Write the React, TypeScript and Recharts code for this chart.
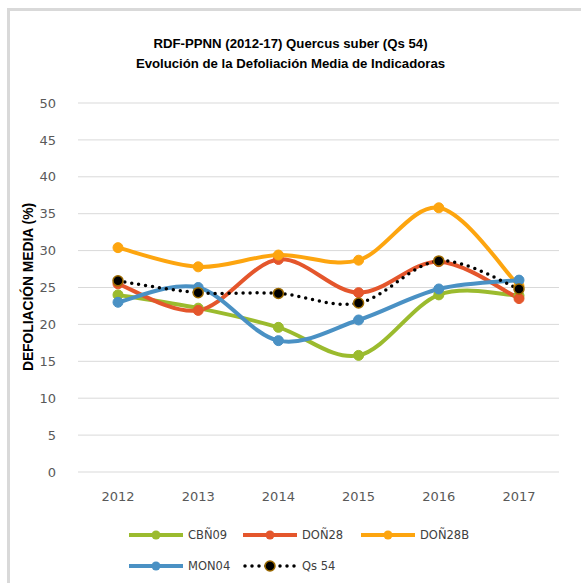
import React from "react";
import { LineChart, Line, XAxis, YAxis, CartesianGrid } from "recharts";

const years = ["2012", "2013", "2014", "2015", "2016", "2017"];
const cbn09 = [24.0, 22.2, 19.6, 15.8, 24.0, 23.9];
const don28 = [25.5, 21.9, 28.8, 24.3, 28.5, 23.5];
const don28b = [30.4, 27.8, 29.4, 28.7, 35.8, 25.2];
const mon04 = [23.0, 25.0, 17.8, 20.6, 24.8, 26.0];
const qs54 = [25.9, 24.3, 24.2, 22.9, 28.6, 24.8];
const yTicks = [0, 5, 10, 15, 20, 25, 30, 35, 40, 45, 50];

const SERIES = [
  { key: "cbn09", name: "CBÑ09", color: "#9bbb2e" },
  { key: "don28", name: "DOÑ28", color: "#e4562c" },
  { key: "don28b", name: "DOÑ28B", color: "#fda50f" },
  { key: "mon04", name: "MON04", color: "#4a91c4" },
];

const data = years.map((year, i) => ({
  year,
  cbn09: cbn09[i],
  don28: don28[i],
  don28b: don28b[i],
  mon04: mon04[i],
  qs54: qs54[i],
}));

const tickStyle = { fill: "#595959", fontSize: 13, fontFamily: "DejaVu Sans" };

// excel-style smoothed line (catmull-rom bezier)
function smoothCurve(context: any) {
  let pts: number[][] = [];
  return {
    areaStart() {},
    areaEnd() {},
    lineStart() {
      pts = [];
    },
    lineEnd() {
      if (!pts.length) return;
      context.moveTo(pts[0][0], pts[0][1]);
      for (let i = 0; i < pts.length - 1; i++) {
        const p0 = pts[i - 1] || pts[i];
        const p1 = pts[i];
        const p2 = pts[i + 1];
        const p3 = pts[i + 2] || p2;
        context.bezierCurveTo(
          p1[0] + (p2[0] - p0[0]) / 6,
          p1[1] + (p2[1] - p0[1]) / 6,
          p2[0] - (p3[0] - p1[0]) / 6,
          p2[1] - (p3[1] - p1[1]) / 6,
          p2[0],
          p2[1]
        );
      }
    },
    point(x: number, y: number) {
      pts.push([+x, +y]);
    },
  };
}

function LegendItem({ name, color, dotted, x, y }: { name: string; color: string; dotted?: boolean; x: number; y: number }) {
  return (
    <div style={{ position: "absolute", left: x, top: y - 10, height: 20, display: "flex", alignItems: "center" }}>
      <svg width={54} height={20} style={{ display: "block" }}>
        {dotted ? (
          <>
            <line x1={2} y1={10} x2={52} y2={10} stroke="#000" strokeWidth={3.5} strokeDasharray="0 7" strokeLinecap="round" />
            <circle cx={27} cy={10} r={5} fill="#000" stroke="#9c6a00" strokeWidth={1.5} />
          </>
        ) : (
          <>
            <line x1={0} y1={10} x2={54} y2={10} stroke={color} strokeWidth={4} strokeLinecap="round" />
            <circle cx={27} cy={10} r={4.5} fill={color} />
          </>
        )}
      </svg>
      <span style={{ marginLeft: 5, fontSize: 11.5, fontFamily: "DejaVu Sans", color: "#404040" }}>{name}</span>
    </div>
  );
}

export default function App() {
  return (
    <div style={{ position: "absolute", left: 0, top: 0, width: 581, height: 583, background: "#fff", overflow: "hidden" }}>
      <div
        style={{
          position: "absolute",
          left: 7,
          top: 8,
          width: 600,
          height: 600,
          borderTop: "3px solid #d9d9d9",
          borderLeft: "3px solid #d9d9d9",
        }}
      />
      <div
        style={{
          position: "absolute",
          left: 0,
          top: 34,
          width: 581,
          textAlign: "center",
          fontFamily: "Liberation Sans",
          fontWeight: "bold",
          fontSize: 13.2,
          lineHeight: "20px",
          color: "#000",
        }}
      >
        <div>RDF-PPNN (2012-17) Quercus suber (Qs 54)</div>
        <div>Evolución de la Defoliación Media de Indicadoras</div>
      </div>
      <div
        style={{
          position: "absolute",
          left: 28,
          top: 287,
          transform: "translate(-50%, -50%) rotate(-90deg)",
          whiteSpace: "nowrap",
          fontFamily: "Liberation Sans",
          fontWeight: "bold",
          fontSize: 13.8,
          color: "#000",
        }}
      >
        DEFOLIACIÓN MEDIA (%)
      </div>
      <LineChart
        width={581}
        height={583}
        data={data}
        margin={{ top: 103, right: 22, bottom: 81, left: 38 }}
        style={{ position: "absolute", left: 0, top: 0 }}
      >
        <CartesianGrid vertical={false} stroke="#d9d9d9" strokeWidth={1} />
        <XAxis
          dataKey="year"
          height={30}
          padding={{ left: 40, right: 40 }}
          axisLine={false}
          tickLine={false}
          tick={tickStyle}
          tickMargin={14}
        />
        <YAxis
          domain={[0, 50]}
          ticks={yTicks}
          width={40}
          axisLine={false}
          tickLine={false}
          tick={tickStyle}
          tickMargin={16}
        />
        {SERIES.map((s) => (
          <Line
            key={s.key}
            type={smoothCurve as any}
            dataKey={s.key}
            name={s.name}
            stroke={s.color}
            strokeWidth={4}
            dot={{ r: 5, fill: s.color, stroke: s.color, strokeWidth: 1 }}
            isAnimationActive={false}
          />
        ))}
        <Line
          type={smoothCurve as any}
          dataKey="qs54"
          name="Qs 54"
          stroke="#000"
          strokeWidth={3.5}
          strokeDasharray="0 7"
          strokeLinecap="round"
          dot={{ r: 5, fill: "#000", stroke: "#9c6a00", strokeWidth: 1.5, strokeDasharray: "" }}
          isAnimationActive={false}
        />
      </LineChart>
      <LegendItem name="CBÑ09" color="#9bbb2e" x={129} y={535} />
      <LegendItem name="DOÑ28" color="#e4562c" x={243} y={535} />
      <LegendItem name="DOÑ28B" color="#fda50f" x={361} y={535} />
      <LegendItem name="MON04" color="#4a91c4" x={129} y={566} />
      <LegendItem name="Qs 54" color="#000" dotted x={243} y={566} />
    </div>
  );
}
